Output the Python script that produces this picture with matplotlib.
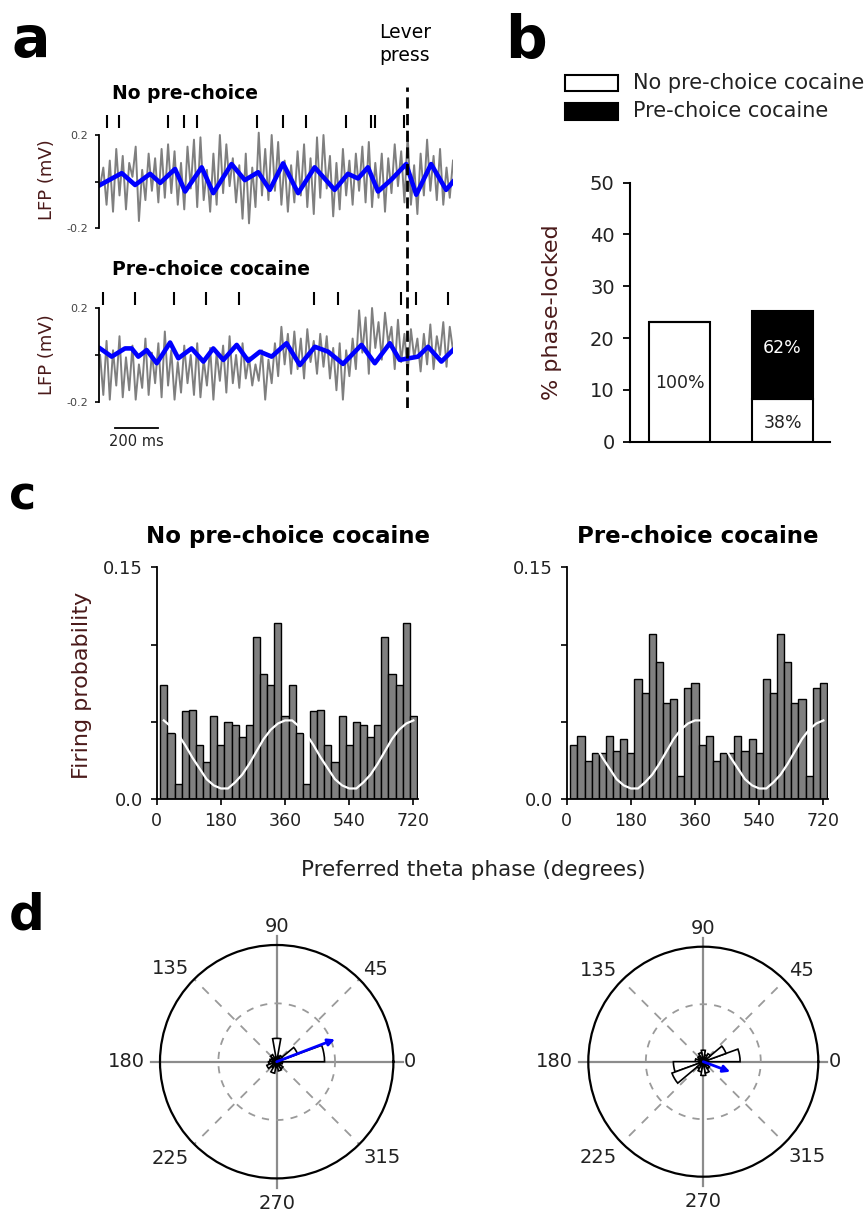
import numpy as np
import matplotlib.pyplot as plt
from matplotlib.patches import Rectangle

# ---- panel a: LFP traces around the lever press (time in ms) ----
trace_t = np.linspace(-1428, 215, 110)
top_gray = [
    -0.02, 0.06, -0.10, 0.09, -0.13, 0.14, -0.06, 0.11, -0.12, 0.08,
    0.02, 0.15, -0.17, 0.05, -0.08, 0.12, -0.04, 0.10, -0.09, 0.14,
    -0.07, 0.16, -0.05, 0.13, -0.10, 0.08, -0.12, 0.15, -0.03, 0.18,
    -0.11, 0.19, -0.08, 0.05, -0.13, 0.12, -0.10, 0.20, -0.05, 0.16,
    -0.02, 0.10, -0.09, 0.07, -0.16, 0.12, -0.18, 0.06, -0.11, 0.21,
    -0.06, 0.14, -0.08, 0.20, -0.04, 0.17, -0.10, 0.09, -0.13, 0.07,
    -0.09, 0.13, -0.06, 0.16, -0.11, 0.10, -0.14, 0.19, -0.07, 0.20,
    -0.03, 0.11, -0.15, 0.08, -0.12, 0.14, -0.06, 0.09, -0.10, 0.12,
    -0.04, 0.15, -0.09, 0.17, -0.11, 0.08, -0.07, 0.12, -0.13, 0.10,
    -0.05, 0.16, -0.02, 0.13, -0.09, 0.20, -0.10, 0.07, -0.14, 0.12,
    -0.06, 0.18, -0.04, 0.11, -0.08, 0.14, -0.10, 0.06, -0.07, 0.09,
]
bottom_gray = [
    0.00, -0.17, 0.06, -0.19, 0.02, -0.13, 0.08, -0.18, -0.01, -0.15,
    0.04, -0.19, -0.04, -0.14, 0.07, -0.17, 0.01, -0.12, 0.05, -0.18,
    0.10, -0.13, 0.02, -0.19, -0.03, -0.16, 0.04, -0.12, 0.00, -0.17,
    0.05, -0.18, -0.02, -0.13, 0.03, -0.19, 0.01, -0.11, 0.04, -0.16,
    0.08, -0.12, 0.00, -0.14, 0.05, -0.10, -0.01, -0.13, -0.04, -0.11,
    0.02, -0.19, -0.02, -0.12, 0.05, -0.09, 0.12, -0.04, 0.09, -0.08,
    0.10, -0.06, 0.07, -0.10, 0.11, -0.03, 0.06, -0.08, 0.09, -0.05,
    0.08, -0.10, 0.03, -0.15, 0.05, -0.19, 0.02, -0.09, 0.07, -0.06,
    0.19, 0.01, 0.16, -0.08, 0.20, 0.03, 0.14, -0.02, 0.18, 0.05,
    0.12, -0.06, 0.15, -0.03, 0.09, -0.08, 0.11, -0.01, 0.07, -0.07,
    0.09, -0.04, 0.13, -0.06, 0.08, 0.00, 0.14, -0.05, 0.12, 0.02,
]
top_blue_t = [-1428, -1327, -1265, -1195, -1148, -1079, -1032, -955, -901, -816,
              -754, -692, -638, -576, -506, -429, -336, -274, -227, -181,
              -134, -70, -3, 44, 113, 183, 215]
top_blue_v = [-0.015, 0.036, -0.015, 0.033, -0.006, 0.054, -0.043, 0.061, -0.050, 0.075,
              0.006, 0.040, -0.036, 0.078, -0.050, 0.061, -0.036, 0.033, 0.013, 0.061,
              -0.043, 0.010, 0.075, -0.057, 0.075, -0.036, -0.001]
bottom_blue_t = [-1428, -1374, -1312, -1281, -1250, -1211, -1164, -1102, -1064, -1002,
                 -947, -901, -854, -792, -738, -684, -629, -560, -498, -428,
                 -366, -297, -211, -149, -79, -33, 52, 99, 161, 215]
bottom_blue_v = [0.028, -0.007, 0.028, 0.028, -0.007, 0.021, -0.035, 0.053, -0.014, 0.028,
                 -0.028, 0.028, -0.021, 0.043, -0.025, 0.014, -0.007, 0.050, -0.043, 0.035,
                 0.014, -0.038, 0.043, -0.035, 0.050, -0.021, -0.007, 0.035, -0.028, 0.021]
top_spikes = [-1395, -1340, -1112, -1037, -977, -698, -577, -470, -284, -167, -149, -14]
bottom_spikes = [-1414, -1265, -1084, -935, -781, -433, -321, -28, 42, 191]

# ---- panel b: % phase-locked ----
b_groups = ['No pre-choice cocaine', 'Pre-choice cocaine']
b_white = [23.1, 8.3]
b_black = [0.0, 16.9]

# ---- panel c: firing probability by theta phase (20 deg bins, 0-360 shown twice) ----
phase_centers = np.arange(20, 721, 20)
hist_no_cocaine = [0.074, 0.043, 0.010, 0.057, 0.058, 0.035, 0.024, 0.054, 0.035,
                   0.050, 0.048, 0.040, 0.048, 0.105, 0.081, 0.074, 0.114, 0.054]
hist_cocaine = [0.035, 0.041, 0.025, 0.030, 0.030, 0.041, 0.031, 0.039, 0.030,
                0.078, 0.069, 0.107, 0.089, 0.062, 0.065, 0.015, 0.072, 0.075]
fit_curve = [0.051, 0.047, 0.042, 0.035, 0.027, 0.020, 0.013, 0.009, 0.007,
             0.007, 0.011, 0.016, 0.023, 0.031, 0.039, 0.045, 0.049, 0.051]

# ---- panel d: rose plots (20 deg bins) and mean vectors ----
rose_centers = np.arange(10, 360, 20)
rose_no_cocaine = [0.41, 0.19, 0.06, 0.05, 0.20, 0.04, 0.07, 0.05, 0.06,
                   0.07, 0.09, 0.06, 0.10, 0.05, 0.08, 0.07, 0.04, 0.05]
rose_cocaine = [0.32, 0.21, 0.08, 0.06, 0.10, 0.08, 0.06, 0.05, 0.07,
                0.26, 0.29, 0.07, 0.09, 0.12, 0.10, 0.07, 0.05, 0.04]
mean_angle = [21.0, 339.5]
mean_length = [0.535, 0.25]

W, H = 868, 1216
LABEL = '#4a1a1a'
TICK = '#222222'
fig = plt.figure(figsize=(W / 100, H / 100), dpi=100)


def px_axes(x0, y0, x1, y1, **kw):
    return fig.add_axes([x0 / W, 1 - y1 / H, (x1 - x0) / W, (y1 - y0) / H], **kw)


ov = fig.add_axes([0, 0, 1, 1], zorder=10)
ov.set_xlim(0, W)
ov.set_ylim(H, 0)
ov.axis('off')

# panel letters
ov.text(12, 57, 'a', fontsize=41, fontweight='bold', va='baseline')
ov.text(505, 58, 'b', fontsize=42, fontweight='bold', va='baseline')
ov.text(9, 509, 'c', fontsize=33, fontweight='bold', va='baseline')
ov.text(9, 930, 'd', fontsize=36, fontweight='bold', va='baseline')

# ---------------- panel a ----------------
tlim = (-1433, 215)
traces = [
    (111.75, 228, top_gray, top_blue_t, top_blue_v, top_spikes, (0.23, 0.286)),
    (284.5, 402, bottom_gray, bottom_blue_t, bottom_blue_v, bottom_spikes, (0.213, 0.268)),
]
trace_axes = []
for y0, y1, gray, bt, bv, spikes, (s0, s1) in traces:
    ax = px_axes(99, y0, 453, y1)
    ax.plot(trace_t, gray, color='#7f7f7f', lw=1.4)
    ax.plot(bt, bv, color='#0000ff', lw=3.3, solid_joinstyle='round')
    ax.vlines(spikes, s0, s1, color='black', lw=1.5)
    ax.set_xlim(*tlim)
    ax.set_ylim(-0.2, 0.3)
    for s in ['top', 'right', 'bottom']:
        ax.spines[s].set_visible(False)
    ax.spines['left'].set_bounds(-0.2, 0.2)
    ax.spines['left'].set_linewidth(1.3)
    ax.set_xticks([])
    ax.set_yticks([-0.2, 0, 0.2])
    ax.set_yticklabels(['-0.2', '', '0.2'])
    ax.tick_params(axis='y', direction='out', length=3, width=1.2, pad=5,
                   labelsize=8, labelcolor='#444444')
    ax.patch.set_alpha(0)
    trace_axes.append(ax)

ax_bot = trace_axes[1]
ax_bot.plot([-1358, -1158], [-0.31, -0.31], color='black', lw=1.3, clip_on=False)
ax_bot.text(-1258, -0.37, '200 ms', fontsize=10.5, ha='center', va='center', color=TICK)

ax_lever = px_axes(99, 87, 453, 408)
ax_lever.set_xlim(*tlim)
ax_lever.set_ylim(0, 1)
ax_lever.axvline(0, color='black', lw=2, dashes=(4, 2))
ax_lever.axis('off')

ov.text(405, 38, 'Lever', fontsize=13.5, ha='center', va='baseline')
ov.text(405, 61, 'press', fontsize=13.5, ha='center', va='baseline')
ov.text(112, 99, 'No pre-choice', fontsize=13.5, fontweight='bold', va='baseline')
ov.text(112, 275, 'Pre-choice cocaine', fontsize=13.5, fontweight='bold', va='baseline')
ov.text(47, 180, 'LFP (mV)', fontsize=13, rotation=90, ha='center', va='center', color=LABEL)
ov.text(47, 355, 'LFP (mV)', fontsize=13, rotation=90, ha='center', va='center', color=LABEL)

# ---------------- panel b ----------------
axb = px_axes(630, 182.7, 830, 441.7)
bx = [1, 2]
axb.bar(bx, b_white, width=0.592, color='white', edgecolor='black', lw=1.5)
axb.bar(bx, b_black, bottom=b_white, width=0.592, color='black', edgecolor='black', lw=1.5)
axb.text(1, 11.3, '100%', fontsize=12.5, ha='center', va='center', color=TICK)
axb.text(2, 18.1, '62%', fontsize=12.5, ha='center', va='center', color='white')
axb.text(2, 3.6, '38%', fontsize=12.5, ha='center', va='center', color=TICK)
axb.set_xlim(0.519, 2.461)
axb.set_ylim(0, 50)
axb.set_xticks([])
axb.set_yticks(range(0, 51, 10))
axb.tick_params(axis='y', direction='out', length=5, width=1.3, pad=6,
                labelsize=14, labelcolor=TICK)
for s in ['top', 'right']:
    axb.spines[s].set_visible(False)
for s in ['left', 'bottom']:
    axb.spines[s].set_linewidth(1.5)
ov.text(552, 312, '% phase-locked', fontsize=16, rotation=90, ha='center', va='center', color=LABEL)

ov.add_patch(Rectangle((565, 75), 53, 16, facecolor='white', edgecolor='black', lw=1.5))
ov.add_patch(Rectangle((565, 103), 53, 17, facecolor='black', edgecolor='black', lw=1.5))
ov.text(633, 83, b_groups[0], fontsize=15, va='center', color=TICK)
ov.text(633, 111, b_groups[1], fontsize=15, va='center', color=TICK)

# ---------------- panel c ----------------
hist_panels = [
    (156.7, hist_no_cocaine, 'No pre-choice cocaine'),
    (566.7, hist_cocaine, 'Pre-choice cocaine'),
]
for x0, counts, title in hist_panels:
    ax = px_axes(x0, 567.3, x0 + 261.3, 799.3)
    ax.bar(phase_centers, np.tile(counts, 2), width=20, color='#808080',
           edgecolor='black', lw=1.0)
    ax.plot(phase_centers, np.tile(fit_curve, 2), color='white', lw=1.6)
    ax.set_xlim(0, 733)
    ax.set_ylim(0, 0.15)
    ax.set_xticks([0, 180, 360, 540, 720])
    ax.set_yticks([0, 0.05, 0.10, 0.15])
    ax.set_yticklabels(['0.0', '', '', '0.15'])
    ax.tick_params(axis='both', direction='out', length=4, width=1.2, labelcolor=TICK)
    ax.tick_params(axis='x', labelsize=12.5, pad=5)
    ax.tick_params(axis='y', labelsize=13, pad=6)
    for s in ['top', 'right']:
        ax.spines[s].set_visible(False)
    for s in ['left', 'bottom']:
        ax.spines[s].set_linewidth(1.3)
    ov.text(x0 + 131, 543, title, fontsize=16.5, fontweight='bold', ha='center', va='baseline')

ov.text(82, 685, 'Firing probability', fontsize=16, rotation=90, ha='center', va='center', color=LABEL)
ov.text(473, 870, 'Preferred theta phase (degrees)', fontsize=15.5, ha='center', va='center', color=TICK)

# ---------------- panel d ----------------
label_specs = {0: (1.09, 'left', 'center'), 45: (1.05, 'left', 'baseline'),
               90: (1.11, 'center', 'baseline'), 135: (1.06, 'right', 'baseline'),
               180: (1.13, 'right', 'center'), 225: (1.06, 'right', 'top'),
               270: (1.13, 'center', 'top'), 315: (1.05, 'left', 'top')}
polar_boxes = [(160, 945, 393.4, 1178.4), (588.3, 946.7, 818.3, 1176.7)]
roses = [rose_no_cocaine, rose_cocaine]
for i, (bx0, by0, bx1, by1) in enumerate(polar_boxes):
    ax = px_axes(bx0, by0, bx1, by1, projection='polar')
    ax.set_ylim(0, 1)
    ax.set_xticks([])
    ax.set_yticks([])
    ax.grid(False)
    ax.spines['polar'].set_linewidth(1.6)
    for a in [0, 90, 180, 270]:
        ax.plot([np.deg2rad(a)] * 2, [0, 1.08], color='#8c8c8c', lw=1.6,
                clip_on=False, zorder=1)
    for a in [45, 135, 225, 315]:
        ax.plot([np.deg2rad(a)] * 2, [0.05, 1], color='#9a9a9a', lw=1.3,
                ls=(0, (5, 5)), zorder=1)
    th = np.linspace(0, 2 * np.pi, 200)
    ax.plot(th, np.full_like(th, 0.5), color='#9a9a9a', lw=1.3, ls=(0, (4, 4)), zorder=1)
    ax.bar(np.deg2rad(rose_centers), roses[i], width=np.deg2rad(20), bottom=0,
           color='white', edgecolor='black', lw=1.2, zorder=3)
    ax.annotate('', xy=(np.deg2rad(mean_angle[i]), mean_length[i]), xytext=(0, 0),
                arrowprops=dict(arrowstyle='-|>', color='#0000ff', lw=2,
                                mutation_scale=10, shrinkA=0, shrinkB=0), zorder=4)
    for a, (r, ha, va) in label_specs.items():
        ax.text(np.deg2rad(a), r, str(a), fontsize=14, ha=ha, va=va, color=TICK)

fig.savefig('out.png', dpi=100)
